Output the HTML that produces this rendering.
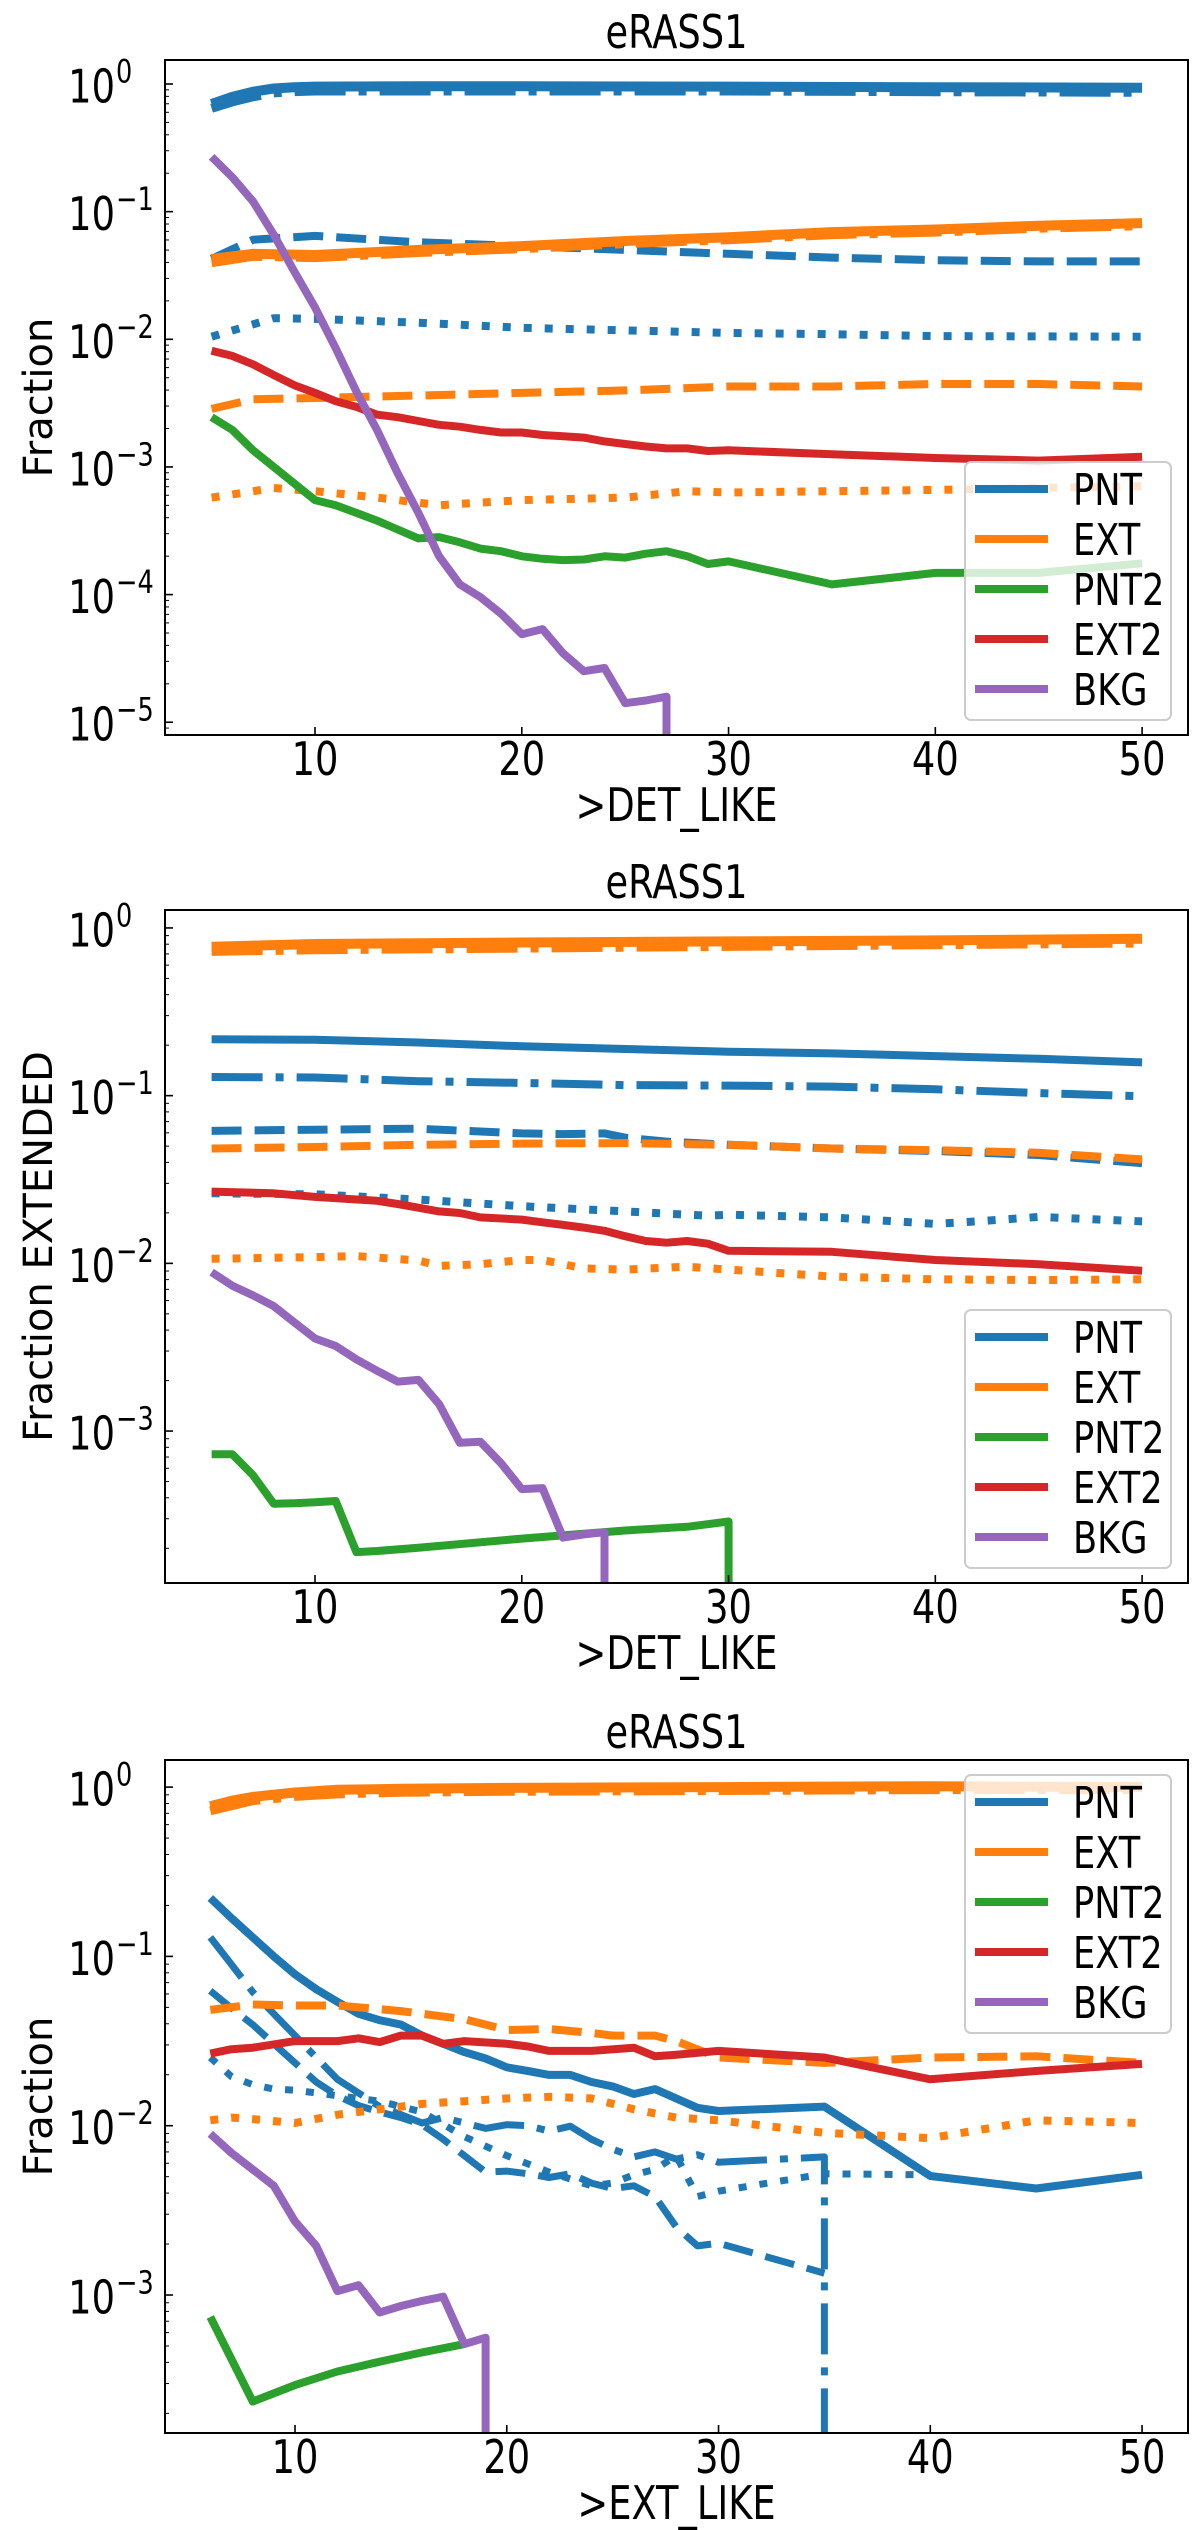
<!DOCTYPE html>
<html><head><meta charset="utf-8"><style>
html,body{margin:0;padding:0;background:#fff;overflow:hidden;}
svg{display:block;font-family:"DejaVu Sans","Liberation Sans",sans-serif;}
</style></head><body>
<svg id="fig" width="1200" height="2530" viewBox="0 0 1200 2530" xmlns="http://www.w3.org/2000/svg"></svg>
<script>
// ---- Panel 1 data (log10 fractions), x = >DET_LIKE ----
const p1Grid = [5,6,7,8,9,10,11,12,13,14,15,16,17,18,19,20,21,22,23,24,25,26,27,28,29,30,35,40,45,50];
const p1PntSolidX = [5,6,7,8,9,10,15,20,30,40,50];
const p1PntSolid = [-0.157,-0.10,-0.06,-0.035,-0.025,-0.02,-0.018,-0.018,-0.02,-0.025,-0.03];
const p1PntDashdot = [-0.19,-0.14,-0.10,-0.07,-0.06,-0.055,-0.055,-0.055,-0.055,-0.06,-0.065];
const p1PntDashedX = [5,7,10,15,20,25,30,35,40,45,50];
const p1PntDashed = [-1.37,-1.22,-1.19,-1.24,-1.27,-1.30,-1.33,-1.36,-1.38,-1.39,-1.39];
const p1PntDottedX = [5,8,10,15,20,25,30,35,40,50];
const p1PntDotted = [-1.98,-1.835,-1.84,-1.87,-1.91,-1.93,-1.95,-1.96,-1.975,-1.98];
const p1ExtX = [5,7,10,15,20,25,30,35,40,45,50];
const p1ExtSolid = [-1.37,-1.33,-1.34,-1.30,-1.27,-1.23,-1.20,-1.16,-1.14,-1.11,-1.09];
const p1ExtDashdot = [-1.40,-1.35,-1.36,-1.32,-1.29,-1.25,-1.22,-1.18,-1.16,-1.13,-1.11];
const p1ExtDashed = [-2.545,-2.47,-2.46,-2.44,-2.42,-2.40,-2.37,-2.37,-2.35,-2.35,-2.37];
const p1ExtDottedX = [5,8,10,13,16,20,25,28,30,40,50];
const p1ExtDotted = [-3.24,-3.165,-3.19,-3.24,-3.30,-3.26,-3.24,-3.19,-3.20,-3.18,-3.15];
const p1Ext2 = [-2.09,-2.13,-2.196,-2.28,-2.36,-2.42,-2.485,-2.53,-2.59,-2.61,-2.64,-2.67,-2.685,-2.71,-2.73,-2.73,-2.75,-2.76,-2.77,-2.80,-2.82,-2.84,-2.855,-2.855,-2.875,-2.87,-2.90,-2.93,-2.95,-2.92];
const p1Pnt2 = [-2.61,-2.71,-2.87,-3.00,-3.13,-3.26,-3.30,-3.36,-3.42,-3.49,-3.56,-3.55,-3.59,-3.64,-3.66,-3.70,-3.72,-3.73,-3.725,-3.70,-3.71,-3.68,-3.66,-3.70,-3.76,-3.74,-3.92,-3.83,-3.83,-3.755];
const p1BkgX = [5,6,7,8,9,10,11,12,13,14,15,16,17,18,19,20,21,22,23,24,25,26,27,27];
const p1Bkg = [-0.57,-0.73,-0.92,-1.18,-1.47,-1.75,-2.07,-2.41,-2.71,-3.05,-3.36,-3.70,-3.92,-4.02,-4.15,-4.31,-4.27,-4.46,-4.60,-4.575,-4.85,-4.83,-4.80,-9];

// ---- Panel 2 data ----
const p2PntX = [5,10,15,20,25,30,35,40,45,50];
const p2PntSolid = [-0.664,-0.667,-0.683,-0.706,-0.722,-0.738,-0.748,-0.764,-0.78,-0.802];
const p2PntDashdot = [-0.889,-0.892,-0.914,-0.924,-0.937,-0.94,-0.946,-0.962,-0.985,-1.004];
const p2PntDashedX = [5,10,15,20,22,24,25,27,30,35,40,45,50];
const p2PntDashed = [-1.21,-1.203,-1.197,-1.225,-1.229,-1.225,-1.251,-1.274,-1.293,-1.315,-1.33,-1.354,-1.402];
const p2PntDottedX = [5,10,15,20,25,28,29,30,35,40,42,45,50];
const p2PntDotted = [-1.582,-1.588,-1.62,-1.659,-1.69,-1.71,-1.716,-1.71,-1.726,-1.765,-1.75,-1.723,-1.75];
const p2ExtSolidX = [5,10,20,30,40,50];
const p2ExtSolid = [-0.112,-0.096,-0.087,-0.08,-0.074,-0.064];
const p2ExtDashdot = [-0.14,-0.13,-0.12,-0.11,-0.10,-0.09];
const p2ExtDashedX = [5,10,15,20,25,30,35,40,45,50];
const p2ExtDashed = [-1.315,-1.306,-1.293,-1.286,-1.283,-1.293,-1.315,-1.325,-1.341,-1.38];
const p2ExtDottedX = [5,10,12,15,16,18,20,21,22,23,25,28,30,35,40,45,50];
const p2ExtDotted = [-1.973,-1.963,-1.957,-1.983,-2.015,-2.005,-1.98,-1.98,-2.005,-2.03,-2.037,-2.02,-2.037,-2.079,-2.095,-2.1,-2.095];
const p2Ext2X = [5,8,10,13,14,15,16,17,18,20,21,22,23,24,25,26,27,28,29,30,35,40,45,50];
const p2Ext2 = [-1.572,-1.582,-1.604,-1.627,-1.646,-1.668,-1.69,-1.70,-1.726,-1.739,-1.755,-1.771,-1.787,-1.806,-1.838,-1.867,-1.877,-1.867,-1.883,-1.925,-1.931,-1.98,-2.005,-2.044];
const p2Pnt2X = [5,6,7,8,9,10,11,12,13,15,20,25,28,30,30];
const p2Pnt2 = [-3.138,-3.138,-3.263,-3.433,-3.43,-3.425,-3.417,-3.722,-3.715,-3.696,-3.641,-3.593,-3.571,-3.539,-9];
const p2BkgX = [5,6,7,8,9,10,11,12,13,14,15,16,17,18,19,20,21,22,23,24,24];
const p2Bkg = [-2.053,-2.133,-2.191,-2.255,-2.352,-2.448,-2.493,-2.573,-2.64,-2.705,-2.695,-2.839,-3.07,-3.064,-3.192,-3.346,-3.34,-3.635,-3.616,-3.603,-9];

// ---- Panel 3 data, x = >EXT_LIKE ----
const p3ExtSolidX = [6,7,8,10,12,15,20,30,40,50];
const p3ExtSolid = [-0.113,-0.081,-0.058,-0.032,-0.016,-0.01,-0.005,0,0.005,0];
const p3ExtDashdot = [-0.14,-0.11,-0.08,-0.055,-0.04,-0.03,-0.025,-0.02,-0.015,-0.015];
const p3PntSolidX = [6,7,8,9,10,11,12,13,14,15,16,17,18,19,20,21,22,23,24,25,26,27,28,29,30,35,40,45,50];
const p3PntSolid = [-0.655,-0.774,-0.887,-1.0,-1.106,-1.194,-1.268,-1.339,-1.377,-1.403,-1.468,-1.516,-1.565,-1.603,-1.655,-1.677,-1.7,-1.7,-1.742,-1.768,-1.813,-1.784,-1.839,-1.894,-1.913,-1.887,-2.297,-2.371,-2.29];
const p3PntDashdotX = [6,7,8,9,10,11,12,13,14,15,16,17,18,19,20,21,22,23,24,25,26,27,28,29,30,35,35];
const p3PntDashdot = [-0.887,-1.048,-1.21,-1.339,-1.468,-1.597,-1.726,-1.806,-1.887,-1.935,-1.984,-1.952,-1.984,-2.016,-1.994,-2.0,-2.032,-2.003,-2.08,-2.139,-2.184,-2.155,-2.197,-2.171,-2.216,-2.184,-9];
const p3PntDashedX = [6,7,8,9,10,11,12,13,14,15,16,17,18,19,20,21,22,23,24,25,26,27,28,29,30,35];
const p3PntDashed = [-1.203,-1.306,-1.403,-1.516,-1.629,-1.742,-1.823,-1.881,-1.919,-1.952,-1.994,-2.08,-2.177,-2.274,-2.268,-2.284,-2.306,-2.284,-2.339,-2.371,-2.355,-2.419,-2.597,-2.71,-2.694,-2.871];
const p3PntDottedX = [6,7,8,9,10,12,14,16,18,20,22,24,25,26,27,28,29,30,35,40];
const p3PntDotted = [-1.597,-1.71,-1.758,-1.784,-1.79,-1.823,-1.855,-1.919,-2.065,-2.177,-2.274,-2.355,-2.339,-2.29,-2.258,-2.177,-2.419,-2.387,-2.284,-2.29];
const p3ExtDashedX = [6,8,10,12,15,18,20,22,24,25,27,28,30,35,40,45,50];
const p3ExtDashed = [-1.316,-1.284,-1.29,-1.29,-1.323,-1.371,-1.435,-1.429,-1.452,-1.468,-1.468,-1.5,-1.597,-1.629,-1.597,-1.59,-1.629];
const p3ExtDottedX = [6,7,8,10,12,14,16,18,20,22,24,26,28,30,35,40,45,50];
const p3ExtDotted = [-1.968,-1.952,-1.961,-1.984,-1.935,-1.903,-1.871,-1.855,-1.839,-1.829,-1.839,-1.903,-1.952,-1.968,-2.042,-2.074,-1.968,-1.984];
const p3Ext2X = [6,7,8,10,12,13,14,15,16,17,18,20,21,22,24,26,27,28,30,35,40,45,50];
const p3Ext2 = [-1.574,-1.548,-1.539,-1.5,-1.5,-1.484,-1.506,-1.468,-1.468,-1.516,-1.5,-1.516,-1.532,-1.558,-1.558,-1.539,-1.59,-1.581,-1.558,-1.597,-1.726,-1.677,-1.635];
const p3Pnt2X = [6,8,10,12,14,16,18];
const p3Pnt2 = [-3.129,-3.629,-3.532,-3.452,-3.394,-3.339,-3.29];
const p3BkgX = [6,7,8,9,10,11,12,13,14,15,16,17,18,19,19];
const p3Bkg = [-2.048,-2.161,-2.258,-2.355,-2.565,-2.71,-2.977,-2.942,-3.103,-3.065,-3.035,-3.01,-3.29,-3.252,-9];

const xTicks = [10,20,30,40,50];
const legendLabels = ['PNT','EXT','PNT2','EXT2','BKG'];

const BLUE='#1f77b4', ORANGE='#ff7f0e', GREEN='#2ca02c', RED='#d62728', PURPLE='#9467bd';
const NS='http://www.w3.org/2000/svg';
const svg=document.getElementById('fig');
const SQ=0.8;
function mk(tag,attrs,parent){const e=document.createElementNS(NS,tag);for(const k in attrs)e.setAttribute(k,attrs[k]);(parent||svg).appendChild(e);return e;}
function txt(parent,x,y,str,size,anchor){
  const t=mk('text',{transform:'translate('+x+','+y+') scale('+SQ+',1)','font-size':size,'text-anchor':anchor||'start'},parent);
  t.textContent=str;return t;
}
const DASH={solid:null,dashed:'30,13',dotted:'8,13',dashdot:'51,13,8,13'};

function panel(cfg,idx){
  const g=mk('g',{});
  
  
  const L=cfg.left,R=cfg.right,T=cfg.top,B=cfg.bottom;
  const X=v=>L+(v-cfg.xmin)/(cfg.xmax-cfg.xmin)*(R-L);
  const Y=lv=>T+(cfg.ymax-Math.max(lv,cfg.ymin-0.05))/(cfg.ymax-cfg.ymin)*(B-T);
  const cid='clip'+idx;
  const cp=mk('clipPath',{id:cid},g);mk('rect',{x:L,y:T,width:R-L,height:B-T},cp);
  const lines=mk('g',{'clip-path':'url(#'+cid+')'},g);
  cfg.series.forEach(s=>{
    const d=s.x.map((xv,i)=>(i?'L':'M')+X(xv).toFixed(1)+','+Y(s.y[i]).toFixed(1)).join(' ');
    const p=mk('path',{d:d,fill:'none',stroke:s.c,'stroke-width':s.w||8,'stroke-linejoin':'round'},lines);
    if(DASH[s.ls])p.setAttribute('stroke-dasharray',DASH[s.ls]);
    
    
  });
  const fr=mk('rect',{x:L,y:T,width:R-L,height:B-T,fill:'none',stroke:'#000','stroke-width':2},g);
  
  
  xTicks.forEach(t=>{
    const x=X(t);
    mk('line',{x1:x,x2:x,y1:B,y2:B-8,stroke:'#000','stroke-width':1.6},g);
    const tx=txt(g,x,B+40,String(t),46,'middle');
    
    
  });
  for(let e=Math.ceil(cfg.ymin);e<=Math.floor(cfg.ymax);e++){
    const y=Y(e);
    mk('line',{x1:L,x2:L+8,y1:y,y2:y,stroke:'#000','stroke-width':1.6},g);
    const tx=txt(g,L-50,y+18.5,'10',46,'end');
    
    
    const ex=txt(g,L-49,y-1.5,e===0?'0':'\u2212'+(-e),32,'start');
    
    
  }
  for(let e=Math.floor(cfg.ymin);e<=Math.ceil(cfg.ymax);e++){
    for(let m=2;m<=9;m++){const lv=e+Math.log10(m);if(lv>cfg.ymin&&lv<cfg.ymax){const y=Y(lv);mk('line',{x1:L,x2:L+4,y1:y,y2:y,stroke:'#000','stroke-width':1},g);}}
  }
  const title=txt(g,(L+R)/2,T-12,'eRASS1',46,'middle');
  
  
  const xl=txt(g,(L+R)/2,B+86,cfg.xlabel,46,'middle');
  
  
  const yl=mk('text',{x:0,y:0,'text-anchor':'middle','font-size':40,transform:'translate(52,'+((T+B)/2)+') rotate(-90)'},g);
  yl.textContent=cfg.ylabel;
  
  
  const lg=mk('g',{},g);
  
  
  mk('rect',{x:965,y:cfg.legTop,width:206,height:258,rx:6,fill:'#fff','fill-opacity':0.8,stroke:'#cccccc','stroke-width':2},lg);
  const cols=[BLUE,ORANGE,GREEN,RED,PURPLE];
  legendLabels.forEach((lab,i)=>{
    const y=cfg.legTop+27+i*50;
    const ln=mk('line',{x1:975,x2:1048,y1:y,y2:y,stroke:cols[i],'stroke-width':8},lg);
    
    
    const t=txt(lg,1073,y+16,lab,44,'start');
    
    
  });
}

panel({left:165,right:1188,top:60,bottom:735,xmin:2.745,xmax:52.22,ymin:-5.10,ymax:0.188,xlabel:'>DET_LIKE',ylabel:'Fraction',legTop:462,series:[
  {name:'pnt-dashdot',x:p1PntSolidX,y:p1PntDashdot,c:BLUE,ls:'dashdot',w:9},
  {name:'pnt-solid',x:p1PntSolidX,y:p1PntSolid,c:BLUE,ls:'solid',w:10},
  {name:'pnt-dashed',x:p1PntDashedX,y:p1PntDashed,c:BLUE,ls:'dashed'},
  {name:'pnt-dotted',x:p1PntDottedX,y:p1PntDotted,c:BLUE,ls:'dotted'},
  {name:'ext-dashdot',x:p1ExtX,y:p1ExtDashdot,c:ORANGE,ls:'dashdot',w:9},
  {name:'ext-solid',x:p1ExtX,y:p1ExtSolid,c:ORANGE,ls:'solid',w:10},
  {name:'ext-dashed',x:p1ExtX,y:p1ExtDashed,c:ORANGE,ls:'dashed'},
  {name:'ext-dotted',x:p1ExtDottedX,y:p1ExtDotted,c:ORANGE,ls:'dotted'},
  {name:'pnt2-line',x:p1Grid,y:p1Pnt2,c:GREEN,ls:'solid'},
  {name:'ext2-line',x:p1Grid,y:p1Ext2,c:RED,ls:'solid'},
  {name:'bkg-line',x:p1BkgX,y:p1Bkg,c:PURPLE,ls:'solid'}
]},1);

panel({left:165,right:1188,top:910,bottom:1583,xmin:2.745,xmax:52.22,ymin:-3.906,ymax:0.107,xlabel:'>DET_LIKE',ylabel:'Fraction EXTENDED',legTop:1310,series:[
  {name:'pnt-solid',x:p2PntX,y:p2PntSolid,c:BLUE,ls:'solid'},
  {name:'pnt-dashdot',x:p2PntX,y:p2PntDashdot,c:BLUE,ls:'dashdot'},
  {name:'pnt-dashed',x:p2PntDashedX,y:p2PntDashed,c:BLUE,ls:'dashed'},
  {name:'pnt-dotted',x:p2PntDottedX,y:p2PntDotted,c:BLUE,ls:'dotted'},
  {name:'ext-dashdot',x:p2ExtSolidX,y:p2ExtDashdot,c:ORANGE,ls:'dashdot',w:9},
  {name:'ext-solid',x:p2ExtSolidX,y:p2ExtSolid,c:ORANGE,ls:'solid',w:10},
  {name:'ext-dashed',x:p2ExtDashedX,y:p2ExtDashed,c:ORANGE,ls:'dashed'},
  {name:'ext-dotted',x:p2ExtDottedX,y:p2ExtDotted,c:ORANGE,ls:'dotted'},
  {name:'ext2-line',x:p2Ext2X,y:p2Ext2,c:RED,ls:'solid'},
  {name:'pnt2-line',x:p2Pnt2X,y:p2Pnt2,c:GREEN,ls:'solid'},
  {name:'bkg-line',x:p2BkgX,y:p2Bkg,c:PURPLE,ls:'solid'}
]},2);

panel({left:165,right:1188,top:1760,bottom:2433,xmin:3.86,xmax:52.17,ymin:-3.815,ymax:0.16,xlabel:'>EXT_LIKE',ylabel:'Fraction',legTop:1775,series:[
  {name:'ext-dashdot',x:p3ExtSolidX,y:p3ExtDashdot,c:ORANGE,ls:'dashdot',w:9},
  {name:'ext-solid',x:p3ExtSolidX,y:p3ExtSolid,c:ORANGE,ls:'solid',w:10},
  {name:'pnt-solid',x:p3PntSolidX,y:p3PntSolid,c:BLUE,ls:'solid'},
  {name:'pnt-dashdot',x:p3PntDashdotX,y:p3PntDashdot,c:BLUE,ls:'dashdot',w:7},
  {name:'pnt-dashed',x:p3PntDashedX,y:p3PntDashed,c:BLUE,ls:'dashed',w:7},
  {name:'pnt-dotted',x:p3PntDottedX,y:p3PntDotted,c:BLUE,ls:'dotted',w:7},
  {name:'ext-dashed',x:p3ExtDashedX,y:p3ExtDashed,c:ORANGE,ls:'dashed'},
  {name:'ext-dotted',x:p3ExtDottedX,y:p3ExtDotted,c:ORANGE,ls:'dotted'},
  {name:'ext2-line',x:p3Ext2X,y:p3Ext2,c:RED,ls:'solid'},
  {name:'pnt2-line',x:p3Pnt2X,y:p3Pnt2,c:GREEN,ls:'solid'},
  {name:'bkg-line',x:p3BkgX,y:p3Bkg,c:PURPLE,ls:'solid'}
]},3);
</script>
</body></html>
